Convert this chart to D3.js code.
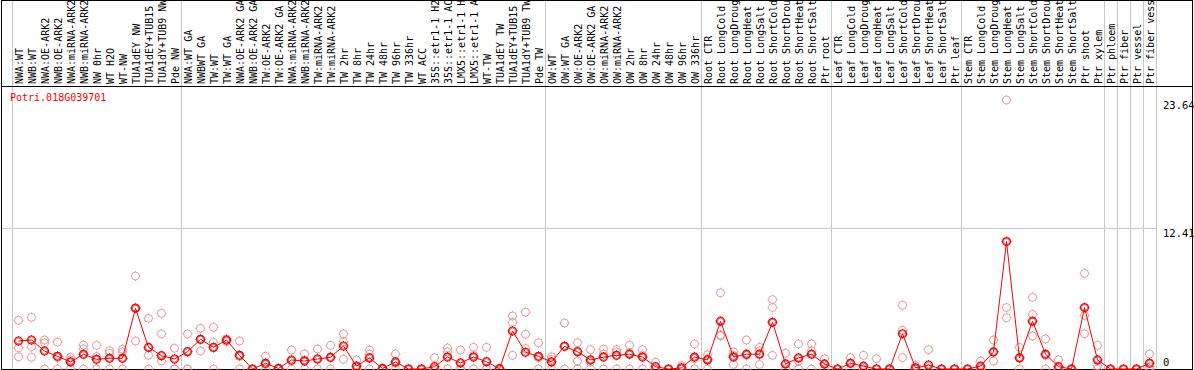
<!DOCTYPE html>
<html>
<head>
<meta charset="utf-8">
<script src="https://cdn.jsdelivr.net/npm/d3@7"></script>
<style>
  body { margin: 0; background: #fff; }
  svg { display: block; font-family: "DejaVu Sans Mono", monospace; }
</style>
</head>
<body>
<svg id="chart" width="1194" height="370"></svg>
<script>
// Sample names (one column each)
const categories = [
  "NWA:WT", "NWB:WT", "NWA:OE-ARK2", "NWB:OE-ARK2", "NWA:miRNA-ARK2", "NWB:miRNA-ARK2",
  "NW 0hr", "WT H2O", "WT-NW", "TUA1dEY NW", "TUA1dEY+TUB15", "TUA1dY+TUB9 NW", "Pde NW",
  "NWA:WT GA", "NWBWT GA", "TW:WT", "TW:WT GA", "NWA:OE-ARK2 GA", "NWB:OE-ARK2 GA",
  "TW:OE-ARK2", "TW:OE-ARK2 GA", "NWA:miRNA-ARK2", "NWB:miRNA-ARK2", "TW:miRNA-ARK2",
  "TW:miRNA-ARK2", "TW 2hr", "TW 8hr", "TW 24hr", "TW 48hr", "TW 96hr", "TW 336hr",
  "WT ACC", "35S::etr1-1 H2", "35S::etr1-1 AC", "LMX5::etr1-1 H", "LMX5::etr1-1 A",
  "WT-TW", "TUA1dEY TW", "TUA1dEY+TUB15", "TUA1dY+TUB9 TW", "Pde TW",
  "OW:WT", "OW:WT GA", "OW:OE-ARK2", "OW:OE-ARK2 GA", "OW:miRNA-ARK2", "OW:miRNA-ARK2",
  "OW 2hr", "OW 8hr", "OW 24hr", "OW 48hr", "OW 96hr", "OW 336hr",
  "Root CTR", "Root LongCold", "Root LongDroug", "Root LongHeat", "Root LongSalt",
  "Root ShortCold", "Root ShortDrou", "Root ShortHeat", "Root ShortSalt", "Ptr root",
  "Leaf CTR", "Leaf LongCold", "Leaf LongDroug", "Leaf LongHeat", "Leaf LongSalt",
  "Leaf ShortCold", "Leaf ShortDrou", "Leaf ShortHeat", "Leaf ShortSalt", "Ptr leaf",
  "Stem CTR", "Stem LongCold", "Stem LongDroug", "Stem LongHeat", "Stem LongSalt",
  "Stem ShortCold", "Stem ShortDrou", "Stem ShortHeat", "Stem ShortSalt", "Ptr shoot",
  "Ptr xylem", "Ptr phloem", "Ptr fiber", "Ptr vessel", "Ptr fiber vess"
];

// mean expression per sample
const means = [
  2.46, 2.55, 1.58, 1.11, 0.62, 1.29, 0.85, 0.94, 0.94, 5.33, 1.90, 1.17, 0.88,
  1.52, 2.61, 1.90, 2.55, 1.20, 0.00, 0.50, 0.05, 0.79, 0.70, 0.88, 1.03, 2.02, 0.26,
  0.97, 0.05, 0.62, 0.00, 0.00, 0.20, 1.05, 0.53, 1.05, 0.64, 0.03, 3.34, 1.47, 1.11,
  0.62, 1.99, 1.52, 0.80, 1.05, 1.20, 1.30, 1.05, 0.20, 0.00, 0.10, 1.05,
  0.80, 4.20, 1.05, 1.30, 1.30, 4.10, 0.45, 0.97, 1.30, 0.45,
  0.00, 0.50, 0.25, 0.00, 0.00, 3.10, 0.10, 0.35, 0.00, 0.00,
  0.00, 0.25, 1.50, 11.20, 0.97, 4.20, 1.30, 0.20, 0.00, 5.40,
  0.80, 0.00, 0.00, 0.00, 0.50
];

// replicate values
const rep1 = [
  4.28, 4.54, 2.55, 2.37, 1.03, 2.10, 2.08, 1.61, 1.73, 8.17, 4.45, 4.89, 1.82,
  3.08, 3.57, 3.66, 2.66, 2.46, 0.00, 1.12, 0.00, 1.67, 1.32, 1.76, 2.08, 3.08, 0.79,
  1.67, 0.00, 1.32, 0.00, 0.00, 0.99, 1.85, 1.67, 1.90, 1.90, 0.00, 4.66, 5.00, 2.31,
  1.08, 4.04, 2.31, 1.70, 1.75, 1.70, 2.10, 1.70, 0.60, 0.00, 0.30, 2.20,
  1.25, 6.70, 1.50, 2.55, 1.90, 6.10, 1.40, 2.20, 2.20, 0.90,
  0.00, 1.00, 1.20, 0.90, 0.00, 5.60, 0.30, 1.70, 0.00, 0.00,
  0.00, 0.70, 2.55, 23.64, 1.90, 6.30, 2.65, 0.80, 0.00, 8.40,
  2.08, 0.00, 0.00, 0.00, 1.32
];
const rep2 = [
  1.87, 1.96, 2.30, 1.00, 0.80, 1.75, 1.10, 1.37, 1.50, 5.40, 1.20, 3.08, 0.00,
  0.00, 2.60, 2.34, 2.50, 1.10, 0.00, 0.40, 0.00, 0.70, 0.80, 0.90, 1.00, 2.40, 0.00,
  1.30, 0.00, 0.50, 0.00, 0.00, 0.00, 1.50, 0.00, 1.20, 0.00, 0.00, 4.10, 3.05, 1.00,
  0.85, 2.00, 0.70, 0.60, 1.30, 1.50, 1.40, 1.20, 0.00, 0.00, 0.00, 0.90,
  0.90, 2.90, 1.20, 1.20, 1.60, 5.40, 0.00, 0.70, 1.60, 0.40,
  0.00, 0.50, 0.00, 0.00, 0.00, 3.40, 0.00, 0.00, 0.00, 0.00,
  0.00, 0.00, 1.50, 5.40, 1.00, 4.80, 1.20, 0.00, 0.00, 4.70,
  0.30, 0.00, 0.00, 0.00, 0.20
];
const rep3 = [
  1.08, 1.03, 0.00, 0.00, 0.00, 0.00, 0.00, 0.00, 0.00, 2.46, 0.00, 0.70, 0.00,
  0.00, 1.58, 0.00, 2.40, 0.00, 0.00, 0.00, 0.00, 0.00, 0.00, 0.00, 0.00, 0.85, 0.00,
  0.00, 0.00, 0.00, 0.00, 0.00, 0.00, 0.00, 0.00, 0.00, 0.00, 0.00, 1.20, 1.80, 0.00,
  0.00, 0.00, 0.00, 0.00, 0.00, 0.00, 0.00, 0.00, 0.00, 0.00, 0.00, 0.00,
  0.00, 3.00, 0.40, 0.00, 0.40, 1.20, 0.00, 0.00, 0.00, 0.00,
  0.00, 0.00, 0.00, 0.00, 0.00, 1.00, 0.00, 0.00, 0.00, 0.00,
  0.00, 0.00, 0.70, 4.50, 0.00, 2.90, 0.00, 0.00, 0.00, 3.10,
  0.00, 0.00, 0.00, 0.00, 0.00
];

// column index where a new sample group starts (vertical separators)
const groupBreaks = [0, 13, 41, 53, 63, 73, 84, 85, 86, 87, 88];
const yTicks = [0, 12.41, 23.64];
const geneName = "Potri.018G039701";

const svg = d3.select("#chart");

const x = d3.scaleBand()
  .domain(d3.range(categories.length))
  .range([12, 1156])
  .padding(0);
const cx = i => x(i) + x.bandwidth() / 2;

const y = d3.scaleLinear()
  .domain([0, 23.64])
  .range([369, 100]);

// circle marker with four small ticks
function marker(r, t) {
  return `M${-r},0a${r},${r} 0 1,0 ${2 * r},0a${r},${r} 0 1,0 ${-2 * r},0` +
    `M0,${-r}v${-t}M0,${r}v${t}M${-r},0h${-t}M${r},0h${t}`;
}

// gridlines
svg.append("g")
  .selectAll("line")
  .data(groupBreaks)
  .join("line")
  .attr("x1", d => x(0) + d * x.bandwidth() + 0.5)
  .attr("x2", d => x(0) + d * x.bandwidth() + 0.5)
  .attr("y1", 0)
  .attr("y2", 369)
  .attr("stroke", "#c8c8c8");

svg.append("line")
  .attr("x1", 1).attr("x2", 1156)
  .attr("y1", Math.round(y(12.41)) + 0.5).attr("y2", Math.round(y(12.41)) + 0.5)
  .attr("stroke", "#c8c8c8");

// sample labels
svg.append("g")
  .selectAll("text")
  .data(categories)
  .join("text")
  .attr("transform", (d, i) => `translate(${cx(i) + 4},84) rotate(-90)`)
  .style("font-size", "10px")
  .attr("fill", "#000")
  .text(d => d);

// frame
svg.append("rect")
  .attr("x", 1.5).attr("y", 0.5)
  .attr("width", 1191).attr("height", 369)
  .attr("fill", "none")
  .attr("stroke", "#000");
svg.append("line")
  .attr("x1", 1).attr("x2", 1193)
  .attr("y1", 86.5).attr("y2", 86.5)
  .attr("stroke", "#000");

// gene name
svg.append("text")
  .attr("x", 10).attr("y", 101)
  .style("font-size", "10px")
  .attr("fill", "#f00")
  .text(geneName);

// y tick labels
svg.append("g")
  .selectAll("text")
  .data(yTicks)
  .join("text")
  .attr("x", 1163)
  .attr("y", d => d === 0 ? y(d) - 3 : y(d) + 9)
  .style("font-size", "10.5px")
  .attr("fill", "#000")
  .text(d => d);

// replicate points
const reps = [];
[rep1, rep2, rep3].forEach(r => r.forEach((v, i) => reps.push({ i, v })));

svg.append("g")
  .selectAll("path")
  .data(reps)
  .join("path")
  .attr("transform", d => `translate(${cx(d.i)},${y(d.v)})`)
  .attr("d", marker(4, 1))
  .attr("fill", "none")
  .attr("stroke", "#eb9a9a")
  .attr("stroke-width", 1);

// mean line
const line = d3.line()
  .x((d, i) => cx(i))
  .y(d => y(d));

svg.append("path")
  .datum(means)
  .attr("d", line)
  .attr("fill", "none")
  .attr("stroke", "#f00")
  .attr("stroke-width", 1);

const mg = svg.append("g")
  .selectAll("g")
  .data(means)
  .join("g")
  .attr("transform", (d, i) => `translate(${cx(i)},${y(d)})`);

mg.append("path")
  .attr("d", marker(4, 1))
  .attr("fill", "none")
  .attr("stroke", "#f00")
  .attr("stroke-width", 1.2);

mg.append("circle")
  .attr("r", 3)
  .attr("fill", "none")
  .attr("stroke", "#700")
  .attr("stroke-width", 0.5);
</script>
</body>
</html>
